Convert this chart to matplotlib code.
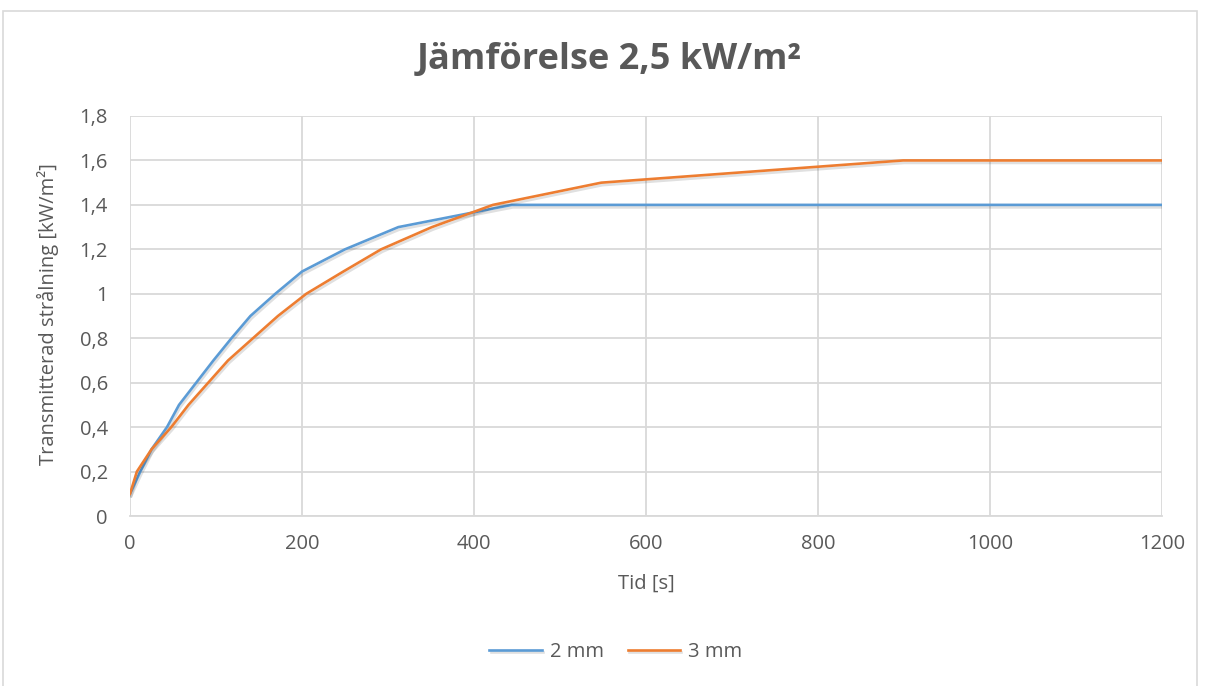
import matplotlib
matplotlib.use("Agg")
import matplotlib.pyplot as plt
import matplotlib.patheffects as pe
from matplotlib.ticker import FuncFormatter, MultipleLocator
from matplotlib.patches import Rectangle

# Time [s] at which each radiation level was reached
tid_2mm = [0, 12, 25, 43, 57, 77, 97, 118, 140, 169, 200, 250, 312, 444, 1200]
str_2mm = [0.1, 0.2, 0.3, 0.4, 0.5, 0.6, 0.7, 0.8, 0.9, 1.0, 1.1, 1.2, 1.3, 1.4, 1.4]

tid_3mm = [0, 8, 25, 48, 68, 91, 114, 143, 172, 205, 248, 292, 351, 422, 548, 899, 1200]
str_3mm = [0.1, 0.2, 0.3, 0.4, 0.5, 0.6, 0.7, 0.8, 0.9, 1.0, 1.1, 1.2, 1.3, 1.4, 1.5, 1.6, 1.6]

text_color = "#595959"
grid_color = "#D9D9D9"
plt.rcParams["font.family"] = ["Open Sans", "DejaVu Sans"]

W, H = 1205, 686
fig = plt.figure(figsize=(W / 100, H / 100), dpi=100)
ax = fig.add_axes([130 / W, 1 - 516 / H, (1162 - 130) / W, 400 / H])

# outer chart border
fig.patches.append(Rectangle((3 / W, -0.01), (1197 - 3) / W, 1 - 11 / H + 0.01,
                             transform=fig.transFigure, fill=False,
                             edgecolor=grid_color, lw=1.2))

shadow = [pe.SimpleLineShadow(offset=(0.8, -1.8), shadow_color="black", alpha=0.12, rho=1),
          pe.Normal()]
ax.plot(tid_2mm, str_2mm, color="#5B9BD5", lw=1.9, label="2 mm", path_effects=shadow)
ax.plot(tid_3mm, str_3mm, color="#ED7D31", lw=1.9, label="3 mm", path_effects=shadow)

ax.set_xlim(0, 1200)
ax.set_ylim(0, 1.8)
ax.xaxis.set_major_locator(MultipleLocator(200))
ax.yaxis.set_major_locator(MultipleLocator(0.2))


def comma_fmt(v, pos):
    s = f"{v:.1f}".rstrip("0").rstrip(".")
    return s.replace(".", ",")


ax.yaxis.set_major_formatter(FuncFormatter(comma_fmt))
ax.xaxis.set_major_formatter(FuncFormatter(lambda v, p: f"{v:.0f}"))

ax.grid(True, color=grid_color, lw=1.3)
ax.set_axisbelow(True)
for side in ["top", "right", "left"]:
    ax.spines[side].set_visible(False)
ax.spines["bottom"].set_color(grid_color)
ax.spines["bottom"].set_linewidth(1.3)
ax.tick_params(length=0, labelsize=14.5, colors=text_color)
ax.tick_params(axis="x", pad=13)
ax.tick_params(axis="y", pad=16)

fig.text(646 / W, 1 - 584 / H, "Tid [s]", ha="center", va="center",
         fontsize=14.5, color=text_color)
fig.text(48 / W, 1 - 314 / H, "Transmitterad strålning [kW/m²]", ha="center", va="center",
         rotation=90, fontsize=14.5, color=text_color)

fig.text(609 / W, 1 - 69 / H, "Jämförelse 2,5 kW/m²", ha="center", va="baseline",
         fontsize=26, fontweight="bold", color=text_color)

fig.legend(loc="center", bbox_to_anchor=(616 / W, 1 - 652 / H), ncol=2, frameon=False,
           fontsize=14.5, labelcolor=text_color, handlelength=2.6, columnspacing=1.2,
           handletextpad=0.4)

fig.savefig("out.png", dpi=100, facecolor="white")
